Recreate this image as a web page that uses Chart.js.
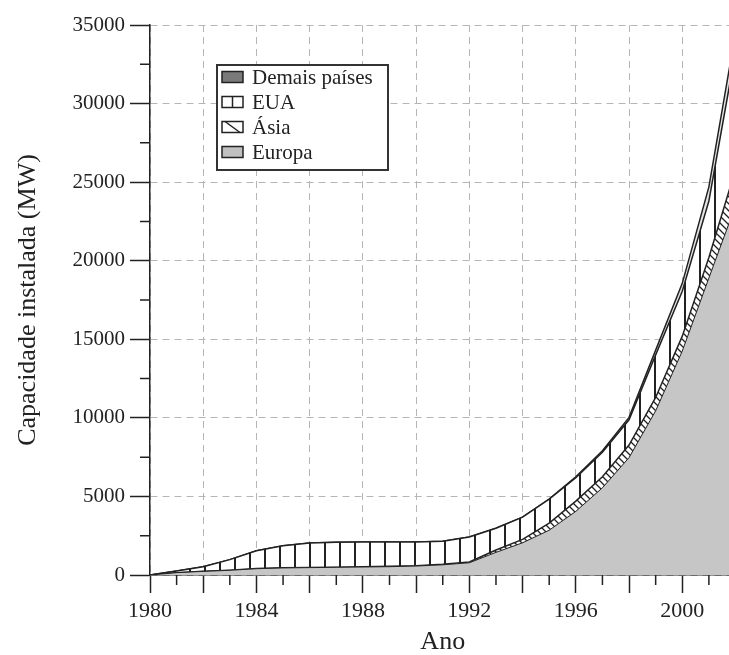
<!DOCTYPE html>
<html>
<head>
<meta charset="utf-8">
<script src="https://cdn.jsdelivr.net/npm/chart.js@4/dist/chart.umd.min.js"></script>
<style>
  html, body { margin: 0; padding: 0; background: #fff; overflow: hidden; }
  #wrap { width: 745px; height: 655px; }
</style>
</head>
<body>
<div id="wrap"><canvas id="chart" width="745" height="655"></canvas></div>
<script>
// anos e capacidade instalada (MW) de cada região
const anos   = [1980,1981,1982,1983,1984,1985,1986,1987,1988,1989,1990,1991,1992,1993,1994,1995,1996,1997,1998,1999,2000,2001,2002];
const europa = [0,150,230,300,400,450,470,490,510,530,570,650,780,1440,2050,2850,4050,5550,7470,10450,14250,18900,23500];
const asia   = [0,0,10,10,10,10,10,10,10,20,20,30,50,150,220,450,650,700,800,850,950,1300,2300];
const eua    = [0,110,280,670,1130,1400,1550,1580,1580,1550,1510,1470,1590,1390,1410,1530,1500,1560,1610,2710,2860,3600,7500];
const demais = [0,0,0,0,0,0,0,0,0,0,0,0,0,0,0,0,50,100,150,300,500,900,1200];

const nomes = ['Europa', 'Ásia', 'EUA', 'Demais países'];
const xRotulos = [1980, 1984, 1988, 1992, 1996, 2000];

const canvas = document.getElementById('chart');
const ctx = canvas.getContext('2d');
const serif = "'Liberation Serif', 'DejaVu Serif', serif";

function padrao(w, h, desenha) {
  const c = document.createElement('canvas');
  c.width = w; c.height = h;
  const g = c.getContext('2d');
  g.fillStyle = '#fff'; g.fillRect(0, 0, w, h);
  g.strokeStyle = '#222'; g.fillStyle = '#222';
  desenha(g, w, h);
  return ctx.createPattern(c, 'repeat');
}
const hachVertical = padrao(15, 4, (g) => { g.fillRect(9, 0, 2, 4); });
const hachDiagonal = padrao(7, 7, (g, w, h) => {
  g.lineWidth = 1.3;
  g.beginPath();
  g.moveTo(-1, -1); g.lineTo(w + 1, h + 1);
  g.moveTo(-1, h - 1); g.lineTo(1, h + 1);
  g.moveTo(w - 1, -1); g.lineTo(w + 1, 1);
  g.stroke();
});

const pontos = (serie) => anos.map((a, i) => ({ x: a, y: serie[i] }));
const estilos = [
  { fill: 'origin', backgroundColor: '#c6c6c6', borderWidth: 1 },
  { fill: '-1', backgroundColor: hachDiagonal, borderWidth: 1.5 },
  { fill: '-1', backgroundColor: hachVertical, borderWidth: 1.5 },
  { fill: '-1', backgroundColor: '#e6e6e6', borderWidth: 1.5 }
];
const series = [europa, asia, eua, demais];

const datasets = series.map((s, i) => Object.assign({
  label: nomes[i],
  data: pontos(s),
  borderColor: '#222',
  pointRadius: 0,
  tension: 0
}, estilos[i]));

// marcas menores dos eixos (anos ímpares e meios de 5000)
const marcas = {
  id: 'marcas',
  afterDraw(chart) {
    const { ctx, scales: { x, y } } = chart;
    ctx.save();
    ctx.strokeStyle = '#222';
    ctx.lineWidth = 1.5;
    ctx.beginPath();
    for (let a = 1981; a < 2002; a += 2) {
      const px = x.getPixelForValue(a);
      ctx.moveTo(px, y.bottom); ctx.lineTo(px, y.bottom + 10);
    }
    for (let v = 2500; v < 35000; v += 5000) {
      const py = y.getPixelForValue(v);
      ctx.moveTo(x.left - 10, py); ctx.lineTo(x.left, py);
    }
    ctx.stroke();
    ctx.restore();
  }
};

// legenda em caixa dentro da área do gráfico
const legenda = {
  id: 'legenda',
  afterDraw(chart) {
    const { ctx, chartArea } = chart;
    const x0 = chartArea.left + 67, y0 = chartArea.top + 40;
    ctx.save();
    ctx.fillStyle = '#fff';
    ctx.fillRect(x0, y0, 171, 105);
    ctx.strokeStyle = '#333';
    ctx.lineWidth = 2;
    ctx.strokeRect(x0, y0, 171, 105);
    ctx.font = '21px ' + serif;
    ctx.textBaseline = 'middle';
    const itens = chart.data.datasets.slice().reverse();
    itens.forEach((ds, i) => {
      const cy = y0 + 12 + i * 25;
      const sx = x0 + 5, sw = 21, sh = 11, sy = cy - sh / 2;
      ctx.fillStyle = ds.label === 'Demais países' ? '#7a7a7a' : ds.label === 'Europa' ? '#c0c0c0' : '#fff';
      ctx.fillRect(sx, sy, sw, sh);
      ctx.strokeStyle = '#222';
      ctx.lineWidth = 1.5;
      ctx.strokeRect(sx, sy, sw, sh);
      ctx.beginPath();
      if (ds.label === 'EUA') { ctx.moveTo(sx + sw / 2, sy); ctx.lineTo(sx + sw / 2, sy + sh); }
      if (ds.label === 'Ásia') { ctx.moveTo(sx + 3, sy); ctx.lineTo(sx + sw - 3, sy + sh); }
      ctx.stroke();
      ctx.fillStyle = '#222';
      ctx.fillText(ds.label, x0 + 35, cy + 1);
    });
    ctx.restore();
  }
};

const gradeX = { color: '#b5b5b5', lineWidth: 1, tickLength: 18, tickColor: '#222', tickWidth: 1.5 };
const gradeY = { color: '#b5b5b5', lineWidth: 1, tickLength: 20, tickColor: '#222', tickWidth: 1.5 };

new Chart(ctx, {
  type: 'line',
  data: { datasets },
  options: {
    animation: false,
    responsive: false,
    devicePixelRatio: 1,
    layout: { padding: { top: 25, right: 9.5, left: 0, bottom: 0 } },
    plugins: { legend: { display: false }, tooltip: { enabled: false } },
    scales: {
      x: {
        type: 'linear',
        min: 1980, max: 2002,
        grid: gradeX,
        border: { color: '#222', width: 1.5, dash: [7, 5] },
        ticks: {
          stepSize: 2, autoSkip: false, maxRotation: 0, padding: 5,
          color: '#222', font: { family: serif, size: 22 },
          callback: (v) => xRotulos.includes(v) ? String(v) : ''
        },
        title: { display: true, text: 'Ano', color: '#222', font: { family: serif, size: 26, lineHeight: 1 }, padding: { top: 0, bottom: 0 } },
        afterFit: (s) => { s.height = 80; }
      },
      y: {
        stacked: true,
        min: 0, max: 35000,
        grid: gradeY,
        border: { color: '#222', width: 1.5, dash: [7, 5] },
        ticks: {
          stepSize: 5000, padding: 5,
          color: '#222', font: { family: serif, size: 21 },
          callback: (v) => String(v)
        },
        title: { display: true, text: 'Capacidade instalada (MW)', color: '#222', font: { family: serif, size: 26, lineHeight: 1 }, padding: { top: 15, bottom: 0 } },
        afterFit: (s) => { s.width = 150; }
      }
    }
  },
  plugins: [marcas, legenda]
});
</script>
</body>
</html>
